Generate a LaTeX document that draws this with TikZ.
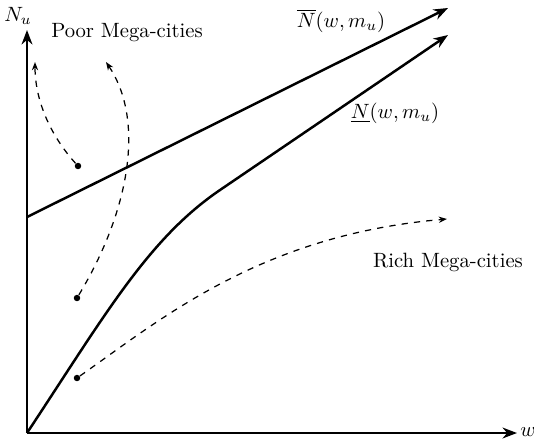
\documentclass[tikz,border=0pt]{standalone}
\usepackage{amsmath}
\usetikzlibrary{arrows.meta, positioning}

\begin{document}
\begin{tikzpicture}[
  x=0.017cm, y=-0.017cm,
  axis/.style={-{Stealth[length=7pt]}, line width=1.2pt},
  curve/.style={-{Stealth[length=7pt]}, line width=1.2pt},
  path/.style={-{Stealth[length=4pt]}, dashed, line width=0.6pt},
  dot/.style={circle, fill, inner sep=0pt, minimum size=1.1mm},
  lab/.style={font=\normalsize}
]
  \useasboundingbox (0,0) rectangle (534,439);
  % axes
  \coordinate (O) at (27,433);
  \coordinate (ytop) at (27,30);
  \coordinate (xend) at (517,433);
  \draw[axis] (O) -- (ytop);
  \draw[axis] (O) -- (xend);
  \node[lab] (Nu) at (18,16) {$N_u$};
  \node[lab] (w) at (528,432) {$w$};

  % upper and lower bounds
  \coordinate (Nbar0) at (27,217);
  \coordinate (Nbar1) at (448,8);
  \coordinate (Nlow1) at (448,35);
  \draw[curve] (Nbar0) -- (Nbar1);
  \draw[curve] (O) .. controls (105,315) and (148,239) .. (220,190) -- (Nlow1);
  \node[lab] (Nbarlab) at (341,21) {$\overline{N}(w,m_u)$};
  \node[lab] (Nlowlab) at (395,113) {$\underline{N}(w,m_u)$};

  % trajectories
  \node[dot] (p1) at (78,166) {};
  \node[dot] (p2) at (77,298) {};
  \node[dot] (p3) at (77,378) {};
  \coordinate (e1) at (35,62);
  \coordinate (e2) at (106,62);
  \coordinate (e3) at (447,219);
  \draw[path] (p1) .. controls (50,135) and (35,100) .. (e1);
  \draw[path] (p2) .. controls (130,210) and (145,120) .. (e2);
  \draw[path] (p3) .. controls (160,320) and (260,235) .. (e3);

  \node[lab] (poor) at (127,33) {Poor Mega-cities};
  \node[lab] (rich) at (448,262) {Rich Mega-cities};
\end{tikzpicture}
\end{document}
